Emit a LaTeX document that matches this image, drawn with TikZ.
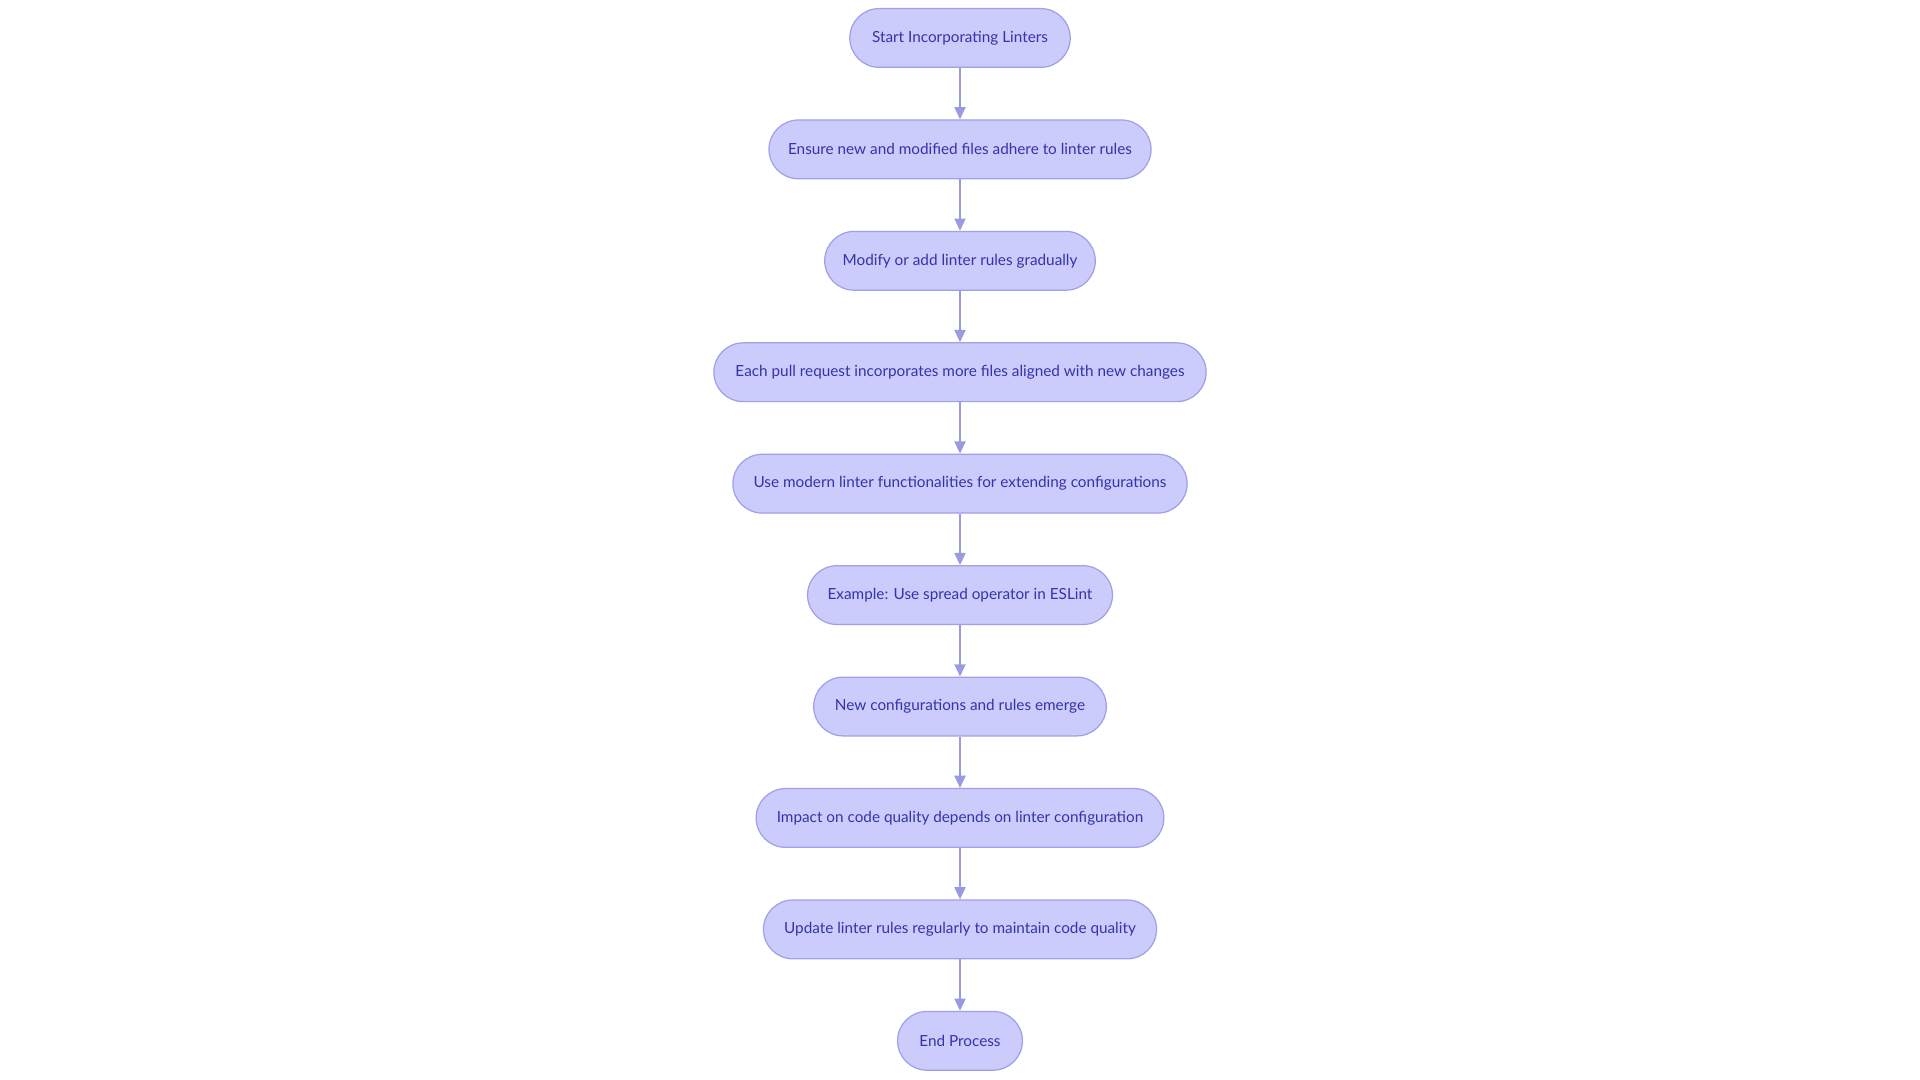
\documentclass[tikz,border=0pt]{standalone}
\usepackage{fontspec}
\setmainfont{Lato}
\usetikzlibrary{arrows.meta}
\definecolor{nfill}{HTML}{CBCBFC}
\definecolor{nline}{HTML}{A0A0E6}
\definecolor{ntext}{HTML}{3434A8}
\definecolor{aline}{HTML}{9A9AE0}
\tikzset{
  pill/.style={draw=nline, fill=nfill, line width=1pt, rounded corners=24pt, minimum height=48pt, inner sep=0pt, text=ntext, font=\fontsize{12.5}{15}\selectfont},
  conn/.style={draw=aline, line width=1.5pt, -{Triangle[length=10pt,width=9pt]}}
}
\begin{document}
\begin{tikzpicture}[x=1pt,y=-1pt]
\useasboundingbox (0,0) rectangle (1568,882);
\node[pill, minimum width=180pt] (n1) at (784,31) {Start Incorporating Linters};
\node[pill, minimum width=312pt] (n2) at (784,122) {Ensure new and modified files adhere to linter rules};
\node[pill, minimum width=221pt] (n3) at (784,213) {Modify or add linter rules gradually};
\node[pill, minimum width=402pt] (n4) at (784,304) {Each pull request incorporates more files aligned with new changes};
\node[pill, minimum width=371pt] (n5) at (784,395) {Use modern linter functionalities for extending configurations};
\node[pill, minimum width=249pt] (n6) at (784,486) {Example: Use spread operator in ESLint};
\node[pill, minimum width=239pt] (n7) at (784,577) {New configurations and rules emerge};
\node[pill, minimum width=333pt] (n8) at (784,668) {Impact on code quality depends on linter configuration};
\node[pill, minimum width=321pt] (n9) at (784,759) {Update linter rules regularly to maintain code quality};
\node[pill, minimum width=102pt] (n10) at (784,850) {End Process};
\foreach \a/\b in {n1/n2,n2/n3,n3/n4,n4/n5,n5/n6,n6/n7,n7/n8,n8/n9,n9/n10}
  \draw[conn] (\a) -- (\b);
\end{tikzpicture}
\end{document}
